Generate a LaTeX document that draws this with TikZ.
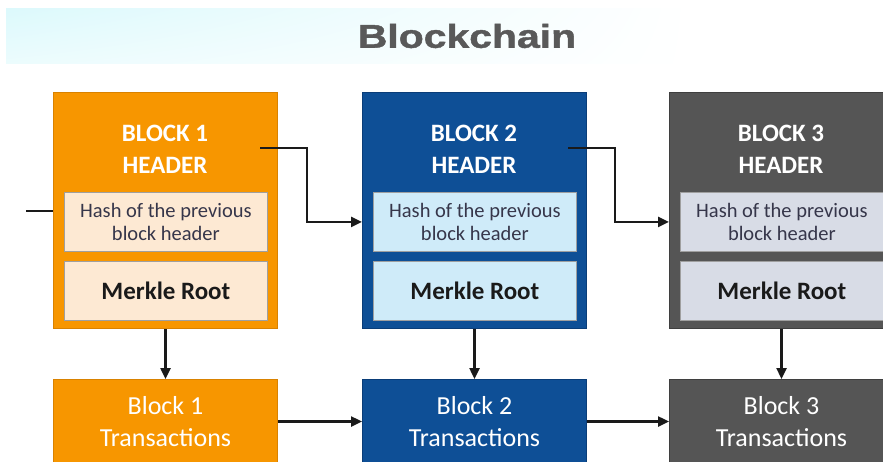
\documentclass[tikz,border=0pt]{standalone}
\usepackage{fontspec}
\usepackage{graphicx}
\setmainfont{Carlito}
\newfontfamily\titlefont[FakeBold=1.2]{Liberation Sans Bold}
\usetikzlibrary{arrows.meta,shadings}

\definecolor{orng}{HTML}{F79600}
\definecolor{orngline}{HTML}{D98200}
\definecolor{orngpale}{HTML}{FDE9D3}
\definecolor{blu}{HTML}{0E4F96}
\definecolor{bluline}{HTML}{0A3D78}
\definecolor{blupale}{HTML}{CFEBF9}
\definecolor{gry}{HTML}{555555}
\definecolor{gryline}{HTML}{3F3F3F}
\definecolor{grypale}{HTML}{D8DCE6}
\definecolor{titlegray}{HTML}{595959}
\definecolor{banner}{HTML}{DCF9FC}
\definecolor{ink}{HTML}{1A1A1A}
\definecolor{hashtext}{HTML}{36364A}

\begin{document}
\begin{tikzpicture}[x=1pt,y=-1pt,
  header/.style={draw=#1line, fill=#1, line width=1pt, minimum width=224pt,
    minimum height=236pt, inner sep=0pt, anchor=north west},
  field/.style={draw=gray!75, fill=#1pale, line width=0.8pt, minimum width=203pt,
    minimum height=59pt, inner sep=0pt, anchor=north west, align=center},
  hashfield/.style={field=#1, text=hashtext,
    font=\fontsize{20.5}{23}\selectfont},
  merklefield/.style={field=#1, text=ink,
    font=\bfseries\fontsize{25}{28}\selectfont},
  headtext/.style={text=white, align=center, inner sep=0pt,
    font=\bfseries\fontsize{25}{32}\selectfont},
  txbox/.style={draw=#1line, fill=#1, line width=1pt, minimum width=224pt,
    minimum height=84pt, inner sep=0pt, anchor=north west, text=white,
    align=center, font=\fontsize{26}{32}\selectfont},
  conn/.style={draw=ink, line width=2.4pt,
    -{Triangle[length=11pt,width=10pt]}},
  plainline/.style={draw=ink, line width=2.4pt}
]
\useasboundingbox (0,0) rectangle (883,461);
\clip (0,0) rectangle (883,461);
\fill[white] (0,0) rectangle (883,461);

% title banner
\shade[upper left=banner, lower left=banner!55!white,
       upper right=white, lower right=white] (6,8) rectangle (690,63);
\node[inner sep=0pt, text=titlegray,
      font=\titlefont\fontsize{33}{36}\selectfont] (title) at (467,36)
      {\scalebox{1.24}[1]{Blockchain}};

% block headers
\node[header=orng] (hdr1) at (53,92) {};
\node[header=blu]  (hdr2) at (362,92) {};
\node[header=gry]  (hdr3) at (669,92) {};

\node[headtext] (ht1) at (165,149) {BLOCK 1\\HEADER};
\node[headtext] (ht2) at (474,149) {BLOCK 2\\HEADER};
\node[headtext] (ht3) at (781,149) {BLOCK 3\\HEADER};

\node[hashfield=orng] (hash1) at (64,192)  {Hash of the previous\\block header};
\node[hashfield=blu]  (hash2) at (373,192) {Hash of the previous\\block header};
\node[hashfield=gry]  (hash3) at (680,192) {Hash of the previous\\block header};

\node[merklefield=orng] (mr1) at (64,261)  {Merkle Root};
\node[merklefield=blu]  (mr2) at (373,261) {Merkle Root};
\node[merklefield=gry]  (mr3) at (680,261) {Merkle Root};

% transaction blocks
\node[txbox=orng] (tx1) at (53,379)  {Block 1\\Transactions};
\node[txbox=blu]  (tx2) at (362,379) {Block 2\\Transactions};
\node[txbox=gry]  (tx3) at (669,379) {Block 3\\Transactions};

% header links
\coordinate (in0) at (26,211);
\draw[plainline] (in0) -- (in0 -| hdr1.west);
\coordinate (out1) at (260,148);
\coordinate (out2) at (568,148);
\draw[conn] (out1) -- ++(47,0) |- (hdr2.west |- hash2.center);
\draw[conn] (out2) -- ++(47,0) |- (hdr3.west |- hash3.center);

% header to transactions
\draw[conn] (hdr1.south) -- (tx1.north);
\draw[conn] (hdr2.south) -- (tx2.north);
\draw[conn] (hdr3.south) -- (tx3.north);

% transaction links
\draw[conn] (tx1.east) -- (tx2.west);
\draw[conn] (tx2.east) -- (tx3.west);
\end{tikzpicture}
\end{document}
